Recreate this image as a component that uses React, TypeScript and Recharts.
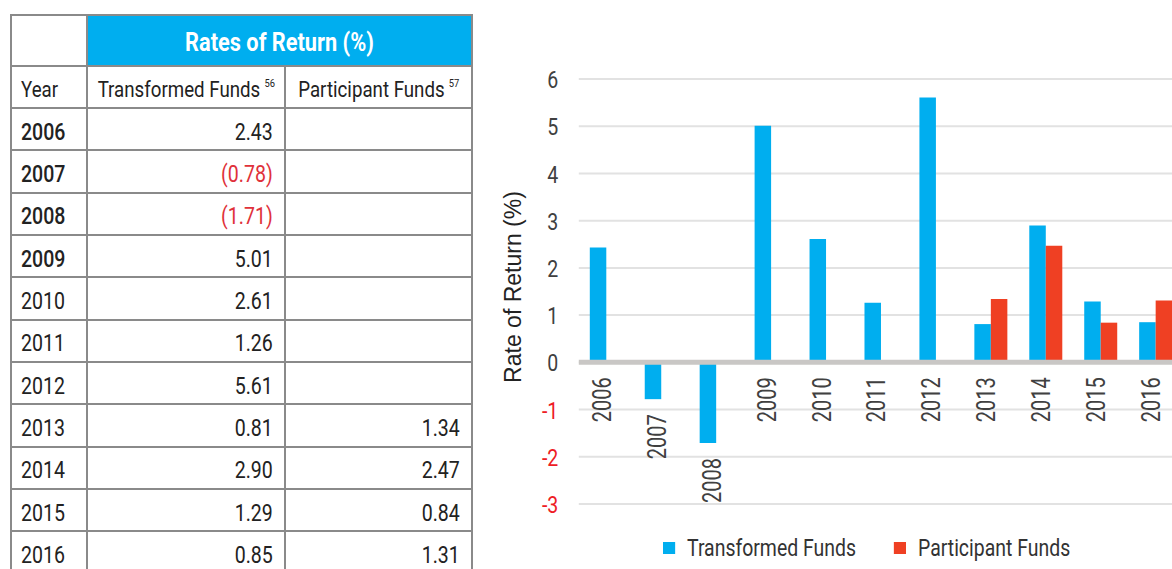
import React from 'react';
import {
  BarChart, Bar, XAxis, YAxis, CartesianGrid, ReferenceLine, LabelList, Legend,
} from 'recharts';

const years = ['2006', '2007', '2008', '2009', '2010', '2011', '2012', '2013', '2014', '2015', '2016'];
const transformed = [2.43, -0.78, -1.71, 5.01, 2.61, 1.26, 5.61, 0.81, 2.90, 1.29, 0.85];
const participant: (number | null)[] = [null, null, null, null, null, null, null, 1.34, 2.47, 0.84, 1.31];
const yTicks = [-3, -2, -1, 0, 1, 2, 3, 4, 5, 6];
const seriesNames = ['Transformed Funds', 'Participant Funds'];

const BLUE = '#00aeef';
const RED = '#ef4023';
const NEG_RED = '#e0313a';
const GRID = '#8a8a8a';
const FONT = "Roboto, 'Noto Sans', sans-serif";
const REGULAR = "'Liberation Sans', Arial, sans-serif";
const SQ = 0.85; // horizontal squeeze to mimic a condensed face
const LEGEND_SQ = 0.81;

const chartData = years.map((year, i) => ({
  year,
  transformed: transformed[i],
  participant: participant[i],
}));

const fmt = (v: number | null) => {
  if (v == null) return '';
  return v < 0 ? `(${Math.abs(v).toFixed(2)})` : v.toFixed(2);
};

const Narrow = ({ children, origin = 'left', s = SQ }: { children: React.ReactNode; origin?: string; s?: number }) => (
  <span style={{ display: 'inline-block', whiteSpace: 'nowrap', transform: `scaleX(${s})`, transformOrigin: origin }}>
    {children}
  </span>
);

function ReturnsTable() {
  const cell: React.CSSProperties = {
    background: '#fff',
    display: 'flex',
    alignItems: 'center',
    fontFamily: FONT,
    fontSize: 23,
    color: '#222',
    paddingTop: 6,
    boxSizing: 'border-box',
    overflow: 'visible',
  };
  return (
    <div
      style={{
        position: 'absolute', left: 10, top: 14, width: 463,
        padding: 2, boxSizing: 'border-box', background: GRID,
        display: 'grid', gap: 2,
        gridTemplateColumns: '74px 196px 185px',
        gridTemplateRows: '49px 40px repeat(11, 40.35px)',
      }}
    >
      <div style={cell} />
      <div
        style={{
          ...cell, gridColumn: '2 / span 2', background: BLUE, color: '#fff',
          justifyContent: 'center', fontWeight: 700, fontSize: 25, paddingTop: 3,
        }}
      >
        <Narrow origin="center" s={0.87}>Rates of Return (%)</Narrow>
      </div>
      <div style={{ ...cell, paddingLeft: 9, fontSize: 22, paddingTop: 5 }}><Narrow>Year</Narrow></div>
      <div style={{ ...cell, justifyContent: 'center', fontSize: 22, paddingTop: 5 }}>
        <Narrow origin="center">
          Transformed Funds<sup style={{ fontSize: 11, marginLeft: 5, position: 'relative', top: -2 }}>56</sup>
        </Narrow>
      </div>
      <div style={{ ...cell, justifyContent: 'center', fontSize: 22, paddingTop: 5 }}>
        <Narrow origin="center">
          Participant Funds<sup style={{ fontSize: 11, marginLeft: 5, position: 'relative', top: -2 }}>57</sup>
        </Narrow>
      </div>
      {years.map((y, i) => (
        <React.Fragment key={y}>
          <div style={{ ...cell, paddingLeft: 9, fontWeight: i < 4 ? 500 : 400 }}><Narrow>{y}</Narrow></div>
          <div style={{ ...cell, justifyContent: 'flex-end', paddingRight: 11, color: transformed[i] < 0 ? NEG_RED : '#222' }}>
            <Narrow origin="right">{fmt(transformed[i])}</Narrow>
          </div>
          <div style={{ ...cell, justifyContent: 'flex-end', paddingRight: 11 }}>
            <Narrow origin="right">{fmt(participant[i])}</Narrow>
          </div>
        </React.Fragment>
      ))}
    </div>
  );
}

const YearLabel = (props: any) => {
  const vb = props.viewBox ?? props;
  const { x, y, width, height } = vb;
  const bottom = Math.max(y, y + height);
  const cx = x + width - 4.5;
  const ty = bottom + 15;
  return (
    <text
      x={0} y={0} transform={`translate(${cx}, ${ty}) rotate(-90) scale(0.77, 1)`}
      textAnchor="end" dominantBaseline="central"
      fontFamily={FONT} fontSize={26} fill="#404040"
    >
      {props.value}
    </text>
  );
};

const YTick = (props: any) => {
  const { x, y, payload } = props;
  return (
    <text
      x={0} y={0} transform={`translate(${x}, ${y + 1}) scale(${SQ}, 1)`}
      textAnchor="end" dominantBaseline="central"
      fontFamily={FONT} fontSize={23} fill={payload.value < 0 ? '#ee1c25' : '#404040'}
    >
      {payload.value}
    </text>
  );
};

const YTitle = (props: any) => {
  const { viewBox } = props;
  const cx = viewBox.x + 22.5;
  const cy = viewBox.y + viewBox.height / 2 - 4.5;
  return (
    <text
      x={cx} y={cy} transform={`rotate(-90, ${cx}, ${cy})`}
      textAnchor="middle" dominantBaseline="central"
      fontFamily={REGULAR} fontSize={23} fill="#222"
    >
      Rate of Return (%)
    </text>
  );
};

const LegendContent = (props: any) => {
  const items = [...(props.payload ?? [])].sort(
    (a: any, b: any) => seriesNames.indexOf(a.value) - seriesNames.indexOf(b.value),
  );
  return (
    <div
      style={{
        display: 'flex', alignItems: 'center', height: 24, whiteSpace: 'nowrap',
        transform: `scaleX(${LEGEND_SQ})`, transformOrigin: 'left',
      }}
    >
      {items.map((p: any, i: number) => (
        <div key={p.value} style={{ display: 'flex', alignItems: 'center', marginLeft: i === 0 ? 0 : 38 / LEGEND_SQ }}>
          <span style={{ width: 12 / LEGEND_SQ, height: 12, background: p.color, display: 'inline-block' }} />
          <span style={{ marginLeft: 12 / LEGEND_SQ, fontFamily: FONT, fontSize: 24, color: '#333' }}>{p.value}</span>
        </div>
      ))}
    </div>
  );
};

export default function App() {
  return (
    <div style={{ position: 'relative', width: 1172, height: 569, overflow: 'hidden', background: '#fff' }}>
      <style>{'body{margin:0}'}</style>
      <ReturnsTable />
      <div style={{ position: 'absolute', left: 490, top: 0 }}>
        <BarChart
          width={700}
          height={569}
          data={chartData}
          margin={{ top: 79, right: 6.9, bottom: 65, left: 0 }}
          barSize={16.5}
          barGap={0}
        >
          <CartesianGrid horizontal vertical={false} stroke="#e2e2e2" strokeWidth={2} />
          <XAxis dataKey="year" hide />
          <YAxis
            type="number"
            domain={[-3, 6]}
            ticks={yTicks}
            interval={0}
            width={88.8}
            axisLine={false}
            tickLine={false}
            tickSize={0}
            tickMargin={20.5}
            tick={<YTick />}
            label={<YTitle />}
          />
          <Bar dataKey="transformed" name={seriesNames[0]} fill={BLUE} isAnimationActive={false}>
            <LabelList dataKey="year" content={<YearLabel />} />
          </Bar>
          <Bar dataKey="participant" name={seriesNames[1]} fill={RED} isAnimationActive={false} />
          <ReferenceLine y={0} stroke="#c9c7c5" strokeWidth={5} />
          <Legend
            layout="horizontal"
            verticalAlign="middle"
            align="center"
            content={<LegendContent />}
            wrapperStyle={{ left: 172.7, top: 536, width: 'auto' }}
          />
        </BarChart>
      </div>
    </div>
  );
}
